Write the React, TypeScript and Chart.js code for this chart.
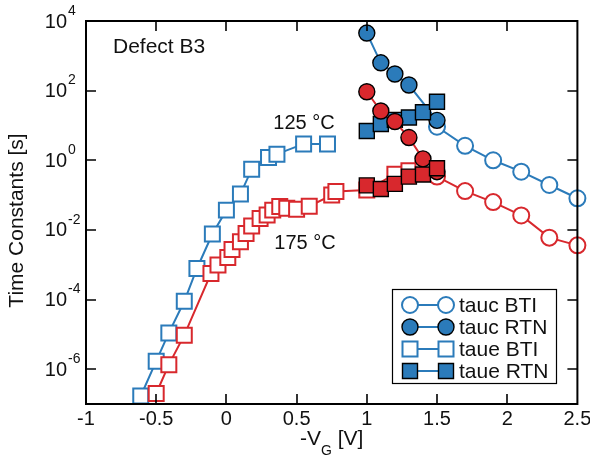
import React, { useEffect, useRef } from 'react';
import { Chart, registerables } from 'chart.js';

Chart.register(...registerables);

// ---------- data ----------
const xTicks = [-1, -0.5, 0, 0.5, 1, 1.5, 2, 2.5];
const xTickLabels = ['-1', '-0.5', '0', '0.5', '1', '1.5', '2', '2.5'];
const yTickExps = [4, 2, 0, -2, -4, -6];

// tauc BTI (open circles)
const tcBtiX = [1.5, 1.7, 1.9, 2.1, 2.3, 2.5];
const tcBti125 = [9.2, 2.6, 1.0, 0.47, 0.195, 0.081];
const tcBti175 = [0.34, 0.13, 0.063, 0.026, 0.006, 0.0036];

// tauc RTN (filled circles)
const tcRtn125X = [1.0, 1.1, 1.2, 1.3, 1.5];
const tcRtn125 = [4500, 630, 300, 145, 14];
const tcRtn175X = [1.0, 1.1, 1.2, 1.3, 1.4, 1.5];
const tcRtn175 = [93, 26, 13, 4.5, 1.1, 0.47];

// taue RTN (filled squares)
const teRtnX = [1.0, 1.1, 1.2, 1.3, 1.4, 1.5];
const teRtn125 = [6.9, 11, 14.5, 17, 24, 48];
const teRtn175 = [0.19, 0.15, 0.21, 0.34, 0.39, 0.59];

// taue BTI (open squares)
const teBti125X = [-0.61, -0.5, -0.41, -0.3, -0.21, -0.1, 0, 0.1, 0.18, 0.3, 0.36, 0.55, 0.72];
const teBti125 = [1.7e-7, 1.7e-6, 1.1e-5, 8.9e-5, 7.8e-4, 7.6e-3, 0.037, 0.107, 0.55, 1.2, 1.5, 2.95, 2.95];
const teBti175X = [-0.5, -0.41, -0.3, -0.11, -0.06, 0.01, 0.04, 0.1, 0.14, 0.18, 0.24, 0.29, 0.33, 0.38, 0.43, 0.5, 0.59, 0.75, 0.78, 1.0, 1.2, 1.3, 1.4];
const teBti175 = [2.0e-7, 1.35e-6, 9.5e-6, 5.6e-4, 9.8e-4, 1.6e-3, 2.75e-3, 4.6e-3, 7.9e-3, 0.0129, 0.0214, 0.027, 0.037, 0.047, 0.042, 0.039, 0.048, 0.1, 0.126, 0.14, 0.4, 0.5, 0.56];

const legendLabels = ['tauc BTI', 'tauc RTN', 'taue BTI', 'taue RTN'];
const annotations = { title: 'Defect B3', t125: '125 \u00B0C', t175: '175 \u00B0C' };

// ---------- style ----------
const BLUE = '#2b7bba';
const RED = '#d8282d';
const FONT = "'Liberation Sans', Arial, Helvetica, sans-serif";

type Shape = 'circle' | 'rect';

function mk(label: string, xs: number[], ys: number[], color: string, shape: Shape, filled: boolean, order: number) {
  return {
    label,
    data: xs.map((x, i) => ({ x, y: ys[i] })),
    showLine: true,
    borderColor: color,
    borderWidth: 2,
    pointStyle: shape,
    pointRadius: shape === 'circle' ? 8 : 10.6,
    pointHoverRadius: shape === 'circle' ? 8 : 10.6,
    pointBackgroundColor: filled ? color : '#ffffff',
    pointBorderColor: filled ? '#000000' : color,
    pointBorderWidth: filled ? 1.4 : 2,
    clip: false as const,
    order,
  };
}

function drawMarker(ctx: CanvasRenderingContext2D, x: number, y: number, shape: Shape, filled: boolean, color: string) {
  ctx.save();
  ctx.beginPath();
  if (shape === 'circle') ctx.arc(x, y, 8, 0, Math.PI * 2);
  else ctx.rect(x - 7.5, y - 7.5, 15, 15);
  ctx.fillStyle = filled ? color : '#ffffff';
  ctx.fill();
  ctx.lineWidth = filled ? 1.4 : 2;
  ctx.strokeStyle = filled ? '#000000' : color;
  ctx.stroke();
  ctx.restore();
}

function text(ctx: CanvasRenderingContext2D, s: string, x: number, y: number, size: number, align: CanvasTextAlign, baseline: CanvasTextBaseline) {
  ctx.font = `${size}px ${FONT}`;
  ctx.textAlign = align;
  ctx.textBaseline = baseline;
  ctx.fillStyle = '#111111';
  ctx.fillText(s, x, y);
}

const framePlugin = {
  id: 'frameAndLabels',
  afterDatasetsDraw(chart: any) {
    const ctx: CanvasRenderingContext2D = chart.ctx;
    const xs = chart.scales.x;
    const ys = chart.scales.y;
    const { left, right, top, bottom } = chart.chartArea;
    ctx.save();
    ctx.strokeStyle = '#000000';
    ctx.lineWidth = 2;
    ctx.strokeRect(left, top, right - left, bottom - top);
    ctx.lineWidth = 1.6;
    const TL = 10;
    ctx.beginPath();
    xTicks.forEach((v) => {
      const px = Math.round(xs.getPixelForValue(v));
      if (px > left + 1 && px < right - 1) {
        ctx.moveTo(px, bottom);
        ctx.lineTo(px, bottom - TL);
        ctx.moveTo(px, top);
        ctx.lineTo(px, top + TL);
      }
    });
    yTickExps.forEach((e) => {
      const py = Math.round(ys.getPixelForValue(Math.pow(10, e)));
      if (py > top + 1 && py < bottom - 1) {
        ctx.moveTo(left, py);
        ctx.lineTo(left + TL, py);
        ctx.moveTo(right, py);
        ctx.lineTo(right - TL, py);
      }
    });
    ctx.stroke();

    // tick labels
    xTicks.forEach((v, i) => {
      const px = xs.getPixelForValue(v);
      text(ctx, xTickLabels[i], px, bottom + 15, 20, 'center', 'middle');
    });
    yTickExps.forEach((e) => {
      const py = ys.getPixelForValue(Math.pow(10, e));
      text(ctx, '10', left - 19, py + 1, 20, 'right', 'middle');
      text(ctx, e < 0 ? '-' + Math.abs(e) : String(e), left - 18, py - 10, 14, 'left', 'middle');
    });

    // axis titles
    const cx = (left + right) / 2;
    ctx.font = `21px ${FONT}`;
    const w1 = ctx.measureText('-V').width;
    ctx.font = `14px ${FONT}`;
    const w2 = ctx.measureText('G').width;
    ctx.font = `21px ${FONT}`;
    const w3 = ctx.measureText(' [V]').width;
    const x0 = cx - (w1 + w2 + w3) / 2;
    text(ctx, '-V', x0, bottom + 35, 21, 'left', 'middle');
    text(ctx, 'G', x0 + w1, bottom + 47, 14, 'left', 'middle');
    text(ctx, ' [V]', x0 + w1 + w2, bottom + 35, 21, 'left', 'middle');

    ctx.save();
    ctx.translate(17, (top + bottom) / 2 + 8);
    ctx.rotate(-Math.PI / 2);
    text(ctx, 'Time Constants [s]', 0, 0, 21, 'center', 'middle');
    ctx.restore();

    // annotations
    text(ctx, annotations.title, 113, 47, 21, 'left', 'middle');
    text(ctx, annotations.t125, 304, 123, 20, 'center', 'middle');
    text(ctx, annotations.t175, 305, 243, 20, 'center', 'middle');

    // legend
    const lx = 392, ly = 289, lw = 164, lh = 94;
    ctx.fillStyle = '#ffffff';
    ctx.fillRect(lx, ly, lw, lh);
    ctx.lineWidth = 1.2;
    ctx.strokeStyle = '#000000';
    ctx.strokeRect(lx + 0.5, ly + 0.5, lw, lh);
    const rows = [305, 327, 349, 371];
    const shapes: [Shape, boolean][] = [['circle', false], ['circle', true], ['rect', false], ['rect', true]];
    rows.forEach((ry, i) => {
      ctx.beginPath();
      ctx.strokeStyle = BLUE;
      ctx.lineWidth = 2;
      ctx.moveTo(410, ry);
      ctx.lineTo(446, ry);
      ctx.stroke();
      drawMarker(ctx, 410, ry, shapes[i][0], shapes[i][1], BLUE);
      drawMarker(ctx, 446, ry, shapes[i][0], shapes[i][1], BLUE);
      text(ctx, legendLabels[i], 459, ry + 1, 21, 'left', 'middle');
    });
    ctx.restore();
  },
};

export default function App() {
  const ref = useRef<HTMLCanvasElement>(null);
  useEffect(() => {
    document.body.style.margin = '0';
    const canvas = ref.current!;
    const chart = new Chart(canvas, {
      type: 'scatter',
      data: {
        datasets: [
          mk('tauc BTI 125', tcBtiX, tcBti125, BLUE, 'circle', false, 8),
          mk('tauc BTI 175', tcBtiX, tcBti175, RED, 'circle', false, 7),
          mk('taue BTI 125', teBti125X, teBti125, BLUE, 'rect', false, 6),
          mk('taue BTI 175', teBti175X, teBti175, RED, 'rect', false, 5),
          mk('tauc RTN 125', tcRtn125X, tcRtn125, BLUE, 'circle', true, 4),
          mk('taue RTN 125', teRtnX, teRtn125, BLUE, 'rect', true, 3),
          mk('tauc RTN 175', tcRtn175X, tcRtn175, RED, 'circle', true, 2),
          mk('taue RTN 175', teRtnX, teRtn175, RED, 'rect', true, 1),
        ] as any,
      },
      options: {
        animation: false,
        responsive: false,
        devicePixelRatio: 1,
        layout: { padding: { left: 86, top: 21, right: 12, bottom: 54 } },
        plugins: { legend: { display: false }, tooltip: { enabled: false } },
        events: [],
        scales: {
          x: { type: 'linear', min: -1, max: 2.5, display: false },
          y: { type: 'logarithmic', min: 1e-7, max: 1e4, display: false },
        },
      },
      plugins: [framePlugin],
    });
    return () => chart.destroy();
  }, []);
  return (
    <div style={{ position: 'absolute', left: 0, top: 0, width: 590, height: 458, background: '#fff' }}>
      <canvas ref={ref} width={590} height={458} style={{ width: 590, height: 458, display: 'block' }} />
    </div>
  );
}
